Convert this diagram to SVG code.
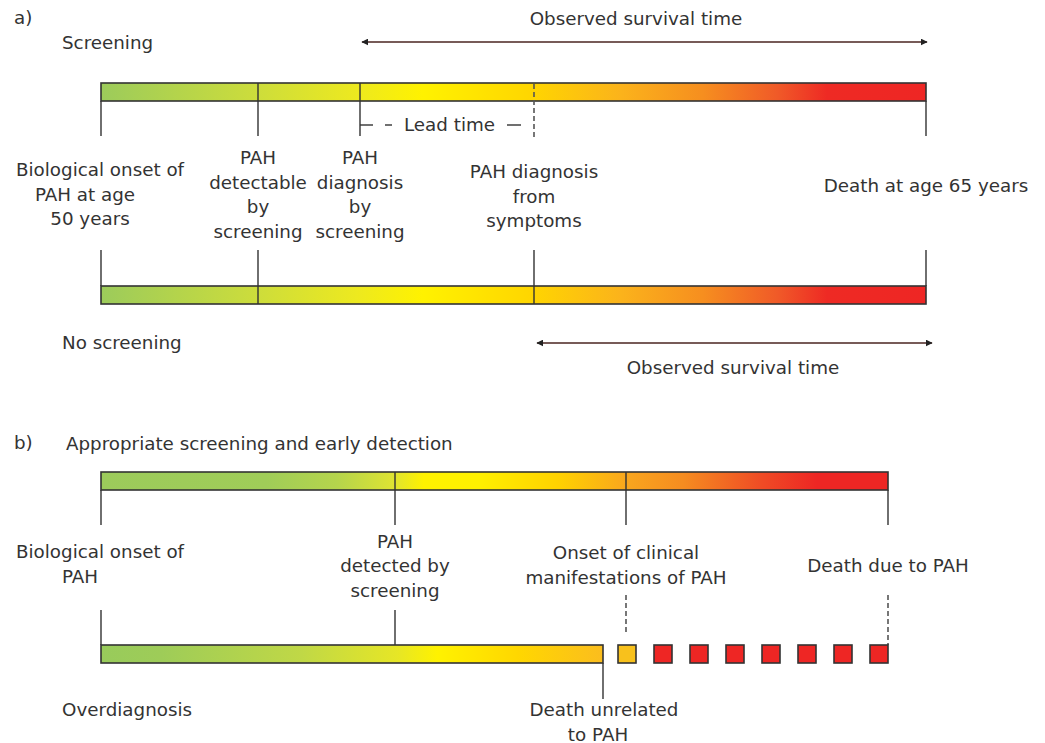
<svg xmlns="http://www.w3.org/2000/svg" width="1045" height="743" viewBox="0 0 1045 743">
<style>
text{font-family:"DejaVu Sans",sans-serif;font-size:18.3px;fill:#333}
.m{text-anchor:middle}
.bar{stroke:#333;stroke-width:1.6}
.tk{stroke:#333;stroke-width:1.4;fill:none}
.ds{stroke:#555;stroke-width:1.6;stroke-dasharray:5 3;fill:none}
.arr{stroke:#4a2420;stroke-width:1.6;fill:none;marker-start:url(#ah);marker-end:url(#ah)}
.sq{stroke:#333;stroke-width:1.6;fill:#ee2624}
</style>
<defs>
<marker id="ah" viewBox="0 0 10 10" refX="9" refY="5" markerWidth="7" markerHeight="7" orient="auto-start-reverse" markerUnits="userSpaceOnUse"><path d="M0,0 L10,5 L0,10 Z" fill="#222"/></marker>
<linearGradient id="g1" x1="0" y1="0" x2="1" y2="0">
<stop offset="0" stop-color="#9ccb5b"/>
<stop offset="0.19" stop-color="#cddd3b"/>
<stop offset="0.31" stop-color="#ede91f"/>
<stop offset="0.39" stop-color="#fff200"/>
<stop offset="0.52" stop-color="#ffd600"/>
<stop offset="0.63" stop-color="#fbb31b"/>
<stop offset="0.73" stop-color="#f68e1f"/>
<stop offset="0.82" stop-color="#f05a28"/>
<stop offset="0.88" stop-color="#ee2a24"/>
<stop offset="1" stop-color="#ee2624"/>
</linearGradient>
<linearGradient id="g3" x1="0" y1="0" x2="1" y2="0">
<stop offset="0" stop-color="#9ccb5b"/>
<stop offset="0.21" stop-color="#a0cd58"/>
<stop offset="0.3" stop-color="#b5d44c"/>
<stop offset="0.37" stop-color="#dde333"/>
<stop offset="0.41" stop-color="#fff200"/>
<stop offset="0.48" stop-color="#fff000"/>
<stop offset="0.58" stop-color="#ffd200"/>
<stop offset="0.67" stop-color="#f9a51e"/>
<stop offset="0.74" stop-color="#f58c20"/>
<stop offset="0.84" stop-color="#ef4b25"/>
<stop offset="0.91" stop-color="#ee2624"/>
<stop offset="1" stop-color="#ee2624"/>
</linearGradient>
<linearGradient id="g4" x1="0" y1="0" x2="1" y2="0">
<stop offset="0" stop-color="#98cb5b"/>
<stop offset="0.12" stop-color="#9ecc58"/>
<stop offset="0.4" stop-color="#c0d846"/>
<stop offset="0.59" stop-color="#e6e626"/>
<stop offset="0.67" stop-color="#fff200"/>
<stop offset="0.83" stop-color="#ffd700"/>
<stop offset="1" stop-color="#fbbd1e"/>
</linearGradient>
</defs>

<g id="labels">
<text x="14" y="24">a)</text>
<text x="62" y="49">Screening</text>
<text x="62" y="349">No screening</text>
<text x="14" y="449">b)</text>
<text x="66" y="450">Appropriate screening and early detection</text>
<text x="62" y="716">Overdiagnosis</text>
</g>

<g id="connectors">
<line class="arr" x1="362" y1="42" x2="927" y2="42"/>
<text class="m" x="636" y="25">Observed survival time</text>
<line class="arr" x1="537" y1="343" x2="932" y2="343"/>
<text class="m" x="733" y="374">Observed survival time</text>
</g>

<g id="bar-screening">
<rect class="bar" x="101" y="83" width="825" height="18" fill="url(#g1)"/>
<line class="tk" x1="258" y1="83" x2="258" y2="136"/>
<line class="tk" x1="360" y1="83" x2="360" y2="136"/>
<line class="tk" x1="101" y1="101" x2="101" y2="136"/>
<line class="tk" x1="926" y1="101" x2="926" y2="136"/>
<line class="ds" x1="534" y1="84" x2="534" y2="137"/>
<g id="lead-time">
<line class="tk" x1="360" y1="125" x2="373" y2="125"/>
<line class="tk" x1="385" y1="125" x2="392" y2="125"/>
<text x="404" y="131">Lead time</text>
<line class="tk" x1="507" y1="125" x2="521" y2="125"/>
</g>
</g>

<g id="node-onset-a">
<text class="m" x="100" y="176">Biological onset of</text>
<text class="m" x="85" y="200.5">PAH at age</text>
<text class="m" x="90" y="225">50 years</text>
</g>
<g id="node-detectable">
<text class="m" x="258" y="164">PAH</text>
<text class="m" x="258" y="188.5">detectable</text>
<text class="m" x="258" y="213">by</text>
<text class="m" x="258" y="237.5">screening</text>
</g>
<g id="node-diag-screen">
<text class="m" x="360" y="164">PAH</text>
<text class="m" x="360" y="188.5">diagnosis</text>
<text class="m" x="360" y="213">by</text>
<text class="m" x="360" y="237.5">screening</text>
</g>
<g id="node-diag-symptoms">
<text class="m" x="534" y="178">PAH diagnosis</text>
<text class="m" x="534" y="202.5">from</text>
<text class="m" x="534" y="227">symptoms</text>
</g>
<g id="node-death-a">
<text class="m" x="926" y="192">Death at age 65 years</text>
</g>

<g id="bar-noscreening">
<rect class="bar" x="101" y="286" width="825" height="18" fill="url(#g1)"/>
<line class="tk" x1="101" y1="250" x2="101" y2="286"/>
<line class="tk" x1="258" y1="250" x2="258" y2="304"/>
<line class="tk" x1="534" y1="250" x2="534" y2="304"/>
<line class="tk" x1="926" y1="250" x2="926" y2="286"/>
</g>

<g id="bar-early">
<rect class="bar" x="101" y="472" width="787" height="18" fill="url(#g3)"/>
<line class="tk" x1="395" y1="472" x2="395" y2="525"/>
<line class="tk" x1="626" y1="472" x2="626" y2="525"/>
<line class="tk" x1="101" y1="490" x2="101" y2="525"/>
<line class="tk" x1="888" y1="490" x2="888" y2="525"/>
</g>

<g id="node-onset-b">
<text class="m" x="100" y="558">Biological onset of</text>
<text x="62" y="583">PAH</text>
</g>
<g id="node-detected">
<text class="m" x="395" y="548">PAH</text>
<text class="m" x="395" y="572">detected by</text>
<text class="m" x="395" y="597">screening</text>
</g>
<g id="node-clinical">
<text class="m" x="626" y="559">Onset of clinical</text>
<text class="m" x="626" y="584">manifestations of PAH</text>
</g>
<g id="node-death-b">
<text class="m" x="888" y="572">Death due to PAH</text>
</g>

<g id="bar-overdiagnosis">
<line class="ds" x1="626" y1="595" x2="626" y2="632"/>
<line class="ds" x1="888" y1="595" x2="888" y2="645"/>
<line class="tk" x1="101" y1="610" x2="101" y2="645"/>
<line class="tk" x1="395" y1="610" x2="395" y2="663"/>
<rect class="bar" x="101" y="645" width="502" height="18" fill="url(#g4)"/>
<line class="tk" x1="603" y1="663" x2="603" y2="699"/>
<rect class="sq" x="618" y="645" width="18" height="18" style="fill:#f8c11c"/>
<rect class="sq" x="654" y="645" width="18" height="18"/>
<rect class="sq" x="690" y="645" width="18" height="18"/>
<rect class="sq" x="726" y="645" width="18" height="18"/>
<rect class="sq" x="762" y="645" width="18" height="18"/>
<rect class="sq" x="798" y="645" width="18" height="18"/>
<rect class="sq" x="834" y="645" width="18" height="18"/>
<rect class="sq" x="870" y="645" width="18" height="18"/>
</g>
<g id="node-unrelated">
<text class="m" x="604" y="716">Death unrelated</text>
<text class="m" x="598" y="741">to PAH</text>
</g>
</svg>
